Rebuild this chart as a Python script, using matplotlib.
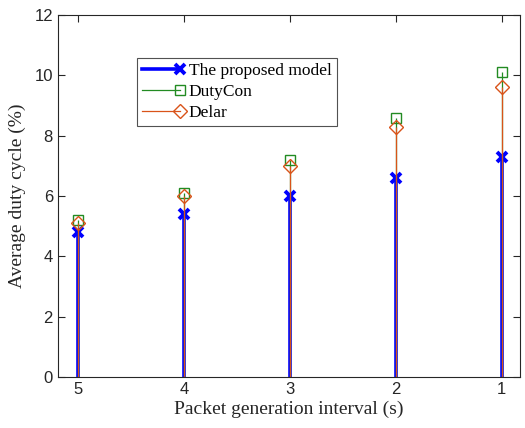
import matplotlib
matplotlib.use("Agg")
import matplotlib.pyplot as plt
from matplotlib.lines import Line2D
from matplotlib.legend_handler import HandlerLine2D

intervals = [5, 4, 3, 2, 1]
proposed = [4.8, 5.4, 6.0, 6.6, 7.3]
dutycon = [5.2, 6.1, 7.2, 8.6, 10.1]
delar = [5.1, 6.0, 7.0, 8.3, 9.6]
names = ["The proposed model", "DutyCon", "Delar"]

blue = "#0000ff"
green = "#228b22"
orange = "#d95319"

class EndMarkerHandler(HandlerLine2D):
    def create_artists(self, legend, orig_handle, xdescent, ydescent, width, height, fontsize, trans):
        y = height / 2.0 - ydescent
        line = Line2D([-xdescent, -xdescent + width], [y, y],
                      color=orig_handle.get_color(), lw=orig_handle.get_linewidth())
        mk = Line2D([-xdescent + width], [y], linestyle="none",
                    marker=orig_handle.get_marker(), markersize=orig_handle.get_markersize(),
                    markeredgewidth=orig_handle.get_markeredgewidth(),
                    markeredgecolor=orig_handle.get_markeredgecolor(),
                    markerfacecolor="none")
        line.set_transform(trans)
        mk.set_transform(trans)
        return [line, mk]

fig = plt.figure(figsize=(5.25, 4.28), dpi=100)
ax = fig.add_axes([0.110, 0.119, 0.880, 0.846])

specs = [
    (proposed, blue, 2.6, "x", 6.5, 2.8),
    (dutycon, green, 0.9, "s", 6.5, 1.0),
    (delar, orange, 0.9, "D", 7.5, 1.0),
]
handles = []
for (vals, c, lw, m, ms, mew), name in zip(specs, names):
    ml, sl, bl = ax.stem(intervals, vals, basefmt=" ")
    sl.set_color(c)
    sl.set_linewidth(lw)
    ml.set_marker(m)
    ml.set_markersize(ms)
    ml.set_markeredgecolor(c)
    ml.set_markerfacecolor("none")
    ml.set_markeredgewidth(mew)
    bl.set_visible(False)
    handles.append(Line2D([0], [0], color=c, lw=lw, marker=m, markersize=ms,
                          markeredgewidth=mew, markeredgecolor=c))

ax.set_xlim(5.19, 0.83)
ax.set_ylim(0, 12)
ax.set_xticks(intervals)
ax.set_xticklabels([str(v) for v in intervals])
ax.set_yticks(range(0, 13, 2))
ax.tick_params(direction="in", top=True, right=True, labelsize=12, length=5, width=0.8, colors="#262626")
for lab in ax.get_xticklabels() + ax.get_yticklabels():
    lab.set_fontfamily("Liberation Sans")
    lab.set_color("#262626")
for s in ax.spines.values():
    s.set_color("#262626")
    s.set_linewidth(0.8)

ax.set_xlabel("Packet generation interval (s)", fontfamily="Liberation Serif", fontsize=14, color="#262626", labelpad=3)
ax.set_ylabel("Average duty cycle (%)", fontfamily="Liberation Serif", fontsize=14, color="#262626", labelpad=6)

leg = ax.legend(handles, names, loc="upper left", bbox_to_anchor=(0.171, 0.882),
                prop={"family": "Liberation Serif", "size": 12.5},
                handler_map={Line2D: EndMarkerHandler()},
                frameon=True, fancybox=False, edgecolor="#262626",
                borderpad=0.3, labelspacing=0.28, handlelength=2.2, handletextpad=0.5,
                borderaxespad=0)
leg.get_frame().set_linewidth(0.8)

fig.savefig("out.png", dpi=100)
